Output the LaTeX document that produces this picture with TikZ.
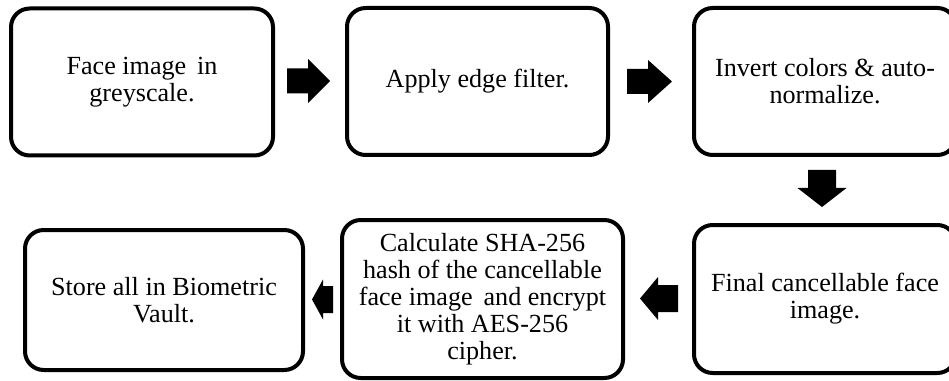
\documentclass[tikz,border=0pt]{standalone}
\usepackage{fontspec}
\setmainfont{Liberation Serif}
\newcommand\pxu{0.75pt}
\tikzset{
  box/.style={draw=black, line width=3pt, rounded corners=14pt, align=center,
    inner sep=0pt, fill=white, font=\fontsize{19.6}{20.2}\selectfont},
  pics/barrow/.style n args={4}{code={
    \fill[black] (-#1/2,-#2) -- (#1/2-#4,-#2) -- (#1/2-#4,-#3) -- (#1/2,0)
      -- (#1/2-#4,#3) -- (#1/2-#4,#2) -- (-#1/2,#2) -- cycle;}}
}
\begin{document}
\begin{tikzpicture}[x=0.75pt,y=-0.75pt]
\fill[white] (0,0) rectangle (949,381);
\useasboundingbox (0,0) rectangle (949,381);
% top row
\node[box, minimum width=262*\pxu, minimum height=147*\pxu] (b1) at (142,82)
  {Face image\,\ in\\greyscale.};
\node[box, minimum width=261*\pxu, minimum height=147*\pxu] (b2) at (477.5,81.5)
  {Apply edge filter.};
\node[box, minimum width=262*\pxu, minimum height=147*\pxu] (b3) at (825,81.5)
  {Invert colors \& auto-\\normalize.};
% bottom row
\node[box, minimum width=262*\pxu, minimum height=148*\pxu] (b4) at (825,299)
  {Final cancellable face\\image.};
\node[box, minimum width=281*\pxu, minimum height=158*\pxu] (b5) at (482.5,299)
  {Calculate SHA-256\\hash of the cancellable\\face image\,\ and encrypt\\it with AES-256\\cipher.};
\node[box, minimum width=278*\pxu, minimum height=140*\pxu] (b6) at (164,300)
  {Store all in Biometric\\Vault.};
% block arrows
\pic at (308.5,81) {barrow={43}{12.5}{22}{22}};
\pic at (649.5,81.5) {barrow={45}{12.5}{21.5}{24}};
\pic[rotate=-90] at (822,188.5) {barrow={37}{14}{24.5}{19}};
\pic[rotate=180] at (659,298.5) {barrow={38}{13.5}{21.5}{18}};
\pic[rotate=180] at (322.5,299.5) {barrow={21}{13.5}{20}{11}};
\end{tikzpicture}
\end{document}
